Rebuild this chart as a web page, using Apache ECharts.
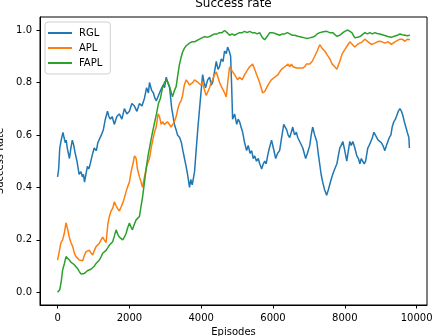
<!DOCTYPE html>
<html>
<head>
<meta charset="utf-8">
<script src="https://cdn.jsdelivr.net/npm/echarts@6/dist/echarts.min.js"></script>
<style>html,body{margin:0;padding:0;background:#fff}#c{width:432px;height:336px}</style>
</head>
<body>
<div id="c"></div>
<script>
const xTicks = [0, 2000, 4000, 6000, 8000, 10000];
const yTicks = [0, 0.2, 0.4, 0.6, 0.8, 1.0];
const seriesNames = ['RGL', 'APL', 'FAPL'];

const rglEpisodes = [0,30,60,100,150,180,215,240,270,300,330,370,410,450,490,540,600,650,690,720,750,790,830,870,910,960,1020,1080,1120,1160,1220,1275,1330,1390,1430,1470,1520,1580,1650,1720,1790,1860,1930,2000,2070,2140,2210,2280,2350,2420,2480,2530,2560,2620,2670,2710,2750,2810,2870,2940,2980,3025,3070,3120,3180,3255,3300,3340,3400,3450,3490,3535,3580,3620,3675,3710,3750,3790,3815,3870,3910,3955,4000,4040,4080,4120,4180,4235,4280,4320,4370,4420,4470,4510,4560,4610,4650,4700,4736,4780,4820,4850,4875,4930,4990,5030,5070,5110,5155,5210,5265,5310,5360,5405,5450,5490,5540,5590,5630,5685,5730,5770,5810,5850,5900,5960,6010,6075,6130,6185,6240,6300,6340,6380,6420,6465,6510,6550,6600,6650,6690,6760,6830,6870,6910,6960,7025,7065,7105,7160,7220,7260,7300,7340,7385,7440,7495,7540,7580,7620,7665,7720,7780,7820,7860,7900,7945,8000,8055,8100,8140,8180,8225,8280,8335,8380,8420,8460,8505,8540,8580,8640,8680,8725,8770,8810,8850,8890,8930,8975,9020,9060,9090,9115,9160,9200,9240,9285,9320,9365,9410,9450,9490,9535,9580,9615,9660,9700,9740,9785,9800];
const rglRate = [0.44,0.47,0.55,0.58,0.61,0.59,0.57,0.58,0.55,0.53,0.51,0.55,0.58,0.56,0.53,0.50,0.45,0.46,0.44,0.45,0.42,0.45,0.48,0.47,0.49,0.52,0.55,0.54,0.57,0.57,0.60,0.62,0.66,0.69,0.67,0.66,0.67,0.64,0.67,0.68,0.66,0.70,0.68,0.69,0.72,0.71,0.69,0.72,0.71,0.74,0.78,0.76,0.80,0.77,0.76,0.74,0.73,0.75,0.77,0.79,0.78,0.82,0.80,0.78,0.70,0.64,0.62,0.60,0.59,0.57,0.54,0.51,0.48,0.45,0.40,0.43,0.41,0.44,0.46,0.56,0.63,0.70,0.77,0.83,0.80,0.78,0.81,0.82,0.79,0.80,0.84,0.88,0.85,0.86,0.89,0.88,0.92,0.91,0.935,0.92,0.90,0.78,0.66,0.68,0.64,0.66,0.65,0.63,0.61,0.57,0.54,0.56,0.53,0.54,0.51,0.52,0.50,0.51,0.49,0.47,0.49,0.50,0.49,0.52,0.55,0.58,0.55,0.51,0.53,0.54,0.59,0.64,0.63,0.62,0.60,0.59,0.61,0.63,0.60,0.61,0.59,0.57,0.55,0.53,0.51,0.53,0.56,0.60,0.63,0.60,0.575,0.53,0.49,0.45,0.42,0.39,0.37,0.39,0.41,0.43,0.45,0.47,0.49,0.52,0.55,0.56,0.575,0.54,0.50,0.54,0.575,0.56,0.575,0.55,0.52,0.51,0.49,0.51,0.51,0.49,0.50,0.55,0.56,0.575,0.59,0.61,0.60,0.59,0.58,0.58,0.57,0.56,0.55,0.54,0.56,0.575,0.59,0.60,0.63,0.65,0.66,0.675,0.69,0.70,0.69,0.675,0.65,0.63,0.61,0.59,0.55];

const aplEpisodes = [0,40,95,140,187,234,280,327,370,419,465,513,560,606,650,698,745,793,840,885,930,977,1025,1072,1120,1164,1210,1256,1300,1351,1400,1444,1490,1535,1582,1630,1666,1722,1769,1815,1861,1900,1945,2001,2048,2100,2141,2188,2224,2280,2327,2364,2420,2467,2503,2559,2606,2651,2698,2746,2800,2838,2885,2922,2977,3025,3061,3117,3160,3201,3250,3304,3350,3396,3440,3480,3530,3583,3630,3675,3723,3770,3815,3862,3910,3954,4000,4038,4094,4140,4178,4233,4280,4317,4373,4420,4457,4512,4560,4596,4652,4699,4740,4791,4830,4875,4931,4970,5015,5070,5140,5210,5257,5300,5349,5390,5433,5489,5530,5572,5628,5670,5712,5768,5815,5860,5907,5954,6000,6046,6094,6140,6186,6234,6280,6326,6373,6420,6465,6512,6560,6604,6652,6700,6744,6790,6828,6884,6930,6968,7024,7090,7163,7230,7303,7370,7442,7510,7582,7650,7721,7780,7830,7861,7930,8000,8070,8140,8210,8279,8350,8419,8490,8559,8606,8650,8698,8740,8782,8838,8900,8977,9040,9117,9164,9210,9257,9300,9341,9396,9450,9536,9600,9675,9740,9815];
const aplRate = [0.123,0.12,0.19,0.20,0.225,0.265,0.24,0.21,0.19,0.175,0.15,0.136,0.13,0.123,0.13,0.12,0.14,0.155,0.15,0.16,0.15,0.142,0.16,0.174,0.18,0.187,0.20,0.21,0.20,0.19,0.26,0.29,0.31,0.32,0.345,0.33,0.32,0.31,0.325,0.34,0.36,0.38,0.40,0.42,0.46,0.49,0.52,0.51,0.47,0.44,0.42,0.40,0.44,0.47,0.49,0.51,0.55,0.58,0.61,0.63,0.68,0.67,0.64,0.65,0.64,0.645,0.65,0.64,0.63,0.63,0.65,0.67,0.70,0.72,0.73,0.75,0.79,0.81,0.80,0.79,0.785,0.80,0.81,0.815,0.80,0.80,0.79,0.80,0.77,0.75,0.745,0.78,0.80,0.81,0.83,0.84,0.84,0.80,0.785,0.785,0.76,0.745,0.80,0.86,0.85,0.85,0.83,0.82,0.81,0.82,0.81,0.83,0.83,0.85,0.86,0.86,0.87,0.85,0.835,0.83,0.80,0.78,0.76,0.765,0.765,0.79,0.80,0.81,0.81,0.82,0.82,0.83,0.84,0.85,0.85,0.86,0.86,0.87,0.86,0.87,0.86,0.86,0.855,0.86,0.855,0.86,0.855,0.86,0.87,0.867,0.87,0.88,0.90,0.92,0.944,0.93,0.92,0.905,0.89,0.87,0.86,0.85,0.87,0.88,0.91,0.925,0.94,0.955,0.945,0.935,0.945,0.95,0.955,0.965,0.963,0.955,0.95,0.945,0.94,0.95,0.955,0.957,0.955,0.95,0.95,0.955,0.96,0.945,0.95,0.955,0.96,0.965,0.965,0.957,0.965,0.963];

const faplEpisodes = [0,20,60,100,140,190,234,280,327,370,419,465,513,560,606,650,698,745,793,840,885,930,977,1025,1072,1120,1164,1210,1256,1300,1351,1400,1444,1490,1535,1582,1630,1680,1722,1770,1814,1860,1909,1950,2001,2040,2085,2140,2188,2240,2280,2327,2364,2420,2475,2531,2587,2643,2698,2754,2810,2866,2922,2977,3033,3075,3117,3160,3201,3257,3304,3350,3396,3440,3480,3530,3583,3630,3675,3740,3815,3880,3954,4020,4094,4160,4233,4300,4373,4440,4512,4580,4652,4720,4791,4860,4931,5000,5070,5140,5210,5280,5349,5420,5489,5560,5628,5670,5712,5768,5838,5907,5991,6094,6186,6260,6326,6400,6465,6540,6604,6689,6744,6810,6884,6950,7024,7090,7163,7230,7303,7400,7498,7580,7665,7720,7777,7861,7930,8000,8084,8140,8196,8279,8350,8419,8490,8559,8630,8698,8770,8838,8900,8977,9090,9200,9300,9396,9470,9536,9600,9675,9740,9815];
const faplRate = [0.0,0.005,0.01,0.04,0.085,0.11,0.136,0.13,0.123,0.115,0.11,0.105,0.098,0.09,0.079,0.07,0.066,0.072,0.079,0.083,0.085,0.088,0.09,0.10,0.11,0.115,0.123,0.135,0.149,0.155,0.16,0.17,0.18,0.185,0.193,0.215,0.238,0.22,0.21,0.205,0.20,0.21,0.225,0.245,0.264,0.25,0.238,0.26,0.276,0.28,0.289,0.33,0.36,0.42,0.48,0.53,0.57,0.61,0.645,0.68,0.72,0.74,0.78,0.80,0.81,0.80,0.785,0.765,0.745,0.77,0.785,0.83,0.87,0.895,0.915,0.93,0.94,0.945,0.95,0.955,0.955,0.96,0.965,0.97,0.975,0.972,0.975,0.98,0.985,0.985,0.99,0.99,0.998,0.99,0.98,0.985,0.98,0.985,0.99,0.99,0.995,0.99,0.995,0.99,0.99,0.985,0.99,0.98,0.97,0.963,0.975,0.99,0.99,0.985,0.98,0.985,0.985,0.99,0.985,0.98,0.98,0.976,0.976,0.972,0.97,0.968,0.97,0.972,0.976,0.985,0.99,0.993,0.995,0.99,0.99,0.983,0.976,0.98,0.988,0.995,1.0,0.995,0.99,0.97,0.972,0.975,0.982,0.99,0.985,0.99,0.985,0.99,0.987,0.985,0.98,0.975,0.972,0.977,0.98,0.985,0.982,0.98,0.978,0.98];

function zip(xs, ys) { return xs.map((x, i) => [x, ys[i]]); }

const chart = echarts.init(document.getElementById('c'), null, {renderer: 'canvas'});
const font = 'DejaVu Sans';
chart.setOption({
  animation: false,
  backgroundColor: '#fff',
  textStyle: {fontFamily: font},
  title: {
    text: 'Success rate', left: 233.5, top: -2, textAlign: 'center', padding: 0,
    textStyle: {fontFamily: font, fontSize: 12, fontWeight: 'normal', color: '#000'}
  },
  grid: {left: 40, right: 5, top: 17, bottom: 31, show: true, borderColor: '#000', borderWidth: 1,
    containLabel: false, outerBoundsMode: 'none'},
  legend: {
    orient: 'vertical', left: 45, top: 22,
    data: seriesNames,
    icon: 'rect', itemWidth: 24, itemHeight: 2, itemGap: 5,
    padding: [6, 8, 6, 3],
    borderColor: '#d0d0d0', borderWidth: 1, borderRadius: 3, backgroundColor: 'rgba(255,255,255,0.8)',
    textStyle: {fontFamily: font, fontSize: 10, color: '#000', padding: [0, 0, 0, 2]}
  },
  xAxis: {
    type: 'value', min: -490, max: 10290,
    name: 'Episodes', nameLocation: 'middle', nameGap: 22,
    nameTextStyle: {fontFamily: font, fontSize: 10, color: '#000'},
    axisLine: {show: true, onZero: false, lineStyle: {color: '#000', width: 1}},
    axisTick: {show: true, length: 3.5, customValues: xTicks, lineStyle: {color: '#000'}},
    axisLabel: {customValues: xTicks, color: '#000', fontSize: 10, fontFamily: font, margin: 8,
      formatter: v => String(v)},
    splitLine: {show: false}
  },
  yAxis: {
    type: 'value', min: -0.0485, max: 1.0496,
    name: 'Success Rate', nameLocation: 'middle', nameGap: 29, nameRotate: 90,
    nameTextStyle: {fontFamily: font, fontSize: 10, color: '#000'},
    axisLine: {show: true, onZero: false, lineStyle: {color: '#000', width: 1}},
    axisTick: {show: true, length: 3.5, customValues: yTicks, lineStyle: {color: '#000'}},
    axisLabel: {customValues: yTicks, color: '#000', fontSize: 10, fontFamily: font, margin: 8,
      formatter: v => v.toFixed(1)},
    splitLine: {show: false}
  },
  series: [
    {name: 'RGL', type: 'line', data: zip(rglEpisodes, rglRate), showSymbol: false, symbol: 'none',
      lineStyle: {color: '#1f77b4', width: 1.5}, itemStyle: {color: '#1f77b4'}},
    {name: 'APL', type: 'line', data: zip(aplEpisodes, aplRate), showSymbol: false, symbol: 'none',
      lineStyle: {color: '#ff7f0e', width: 1.5}, itemStyle: {color: '#ff7f0e'}},
    {name: 'FAPL', type: 'line', data: zip(faplEpisodes, faplRate), showSymbol: false, symbol: 'none',
      lineStyle: {color: '#2ca02c', width: 1.5}, itemStyle: {color: '#2ca02c'}}
  ]
});
</script>
</body>
</html>
